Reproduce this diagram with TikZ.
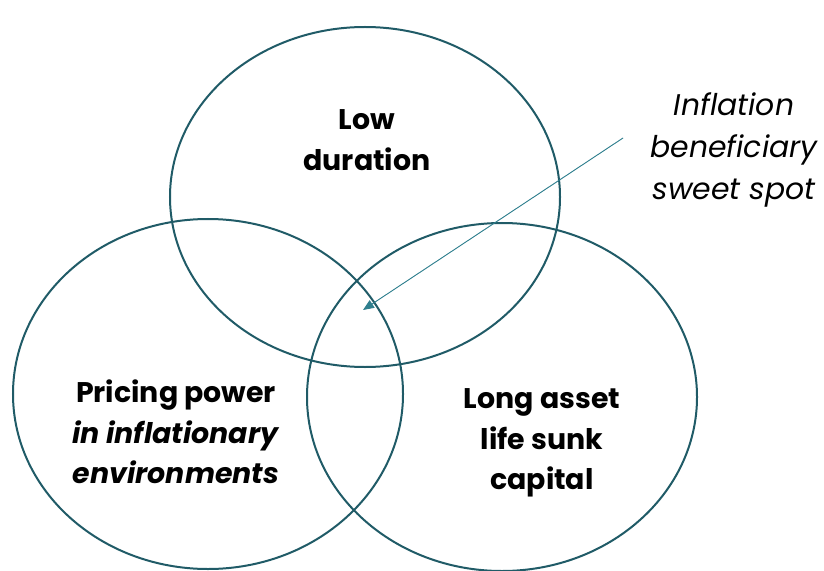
\documentclass[tikz,border=0pt]{standalone}
\usepackage{fontspec}
\setmainfont{Poppins}
\usetikzlibrary{arrows.meta}
\definecolor{ringteal}{HTML}{205B67}
\definecolor{arrowteal}{HTML}{2F7F8E}

\begin{document}
\begin{tikzpicture}[
  x=1bp,y=-1bp,
  ring/.style={draw=ringteal,line width=2bp},
  label/.style={align=center,font=\fontsize{28.5}{40.5}\selectfont\bfseries,inner sep=0pt},
  note/.style={align=center,font=\fontsize{30}{42.5}\selectfont\itshape,inner sep=0pt},
  >={Triangle[length=11bp,width=9bp]}
]
  \useasboundingbox (0,0) rectangle (824,571);

  % the three rings
  \coordinate (top)   at (365,197);
  \coordinate (left)  at (208,394);
  \coordinate (right) at (502,397);
  \draw[ring] (top)   ellipse [x radius=195bp, y radius=170bp];
  \draw[ring] (left)  ellipse [x radius=195bp, y radius=175bp];
  \draw[ring] (right) ellipse [x radius=195bp, y radius=174bp];

  % ring labels
  \node[label] (dur)   at (367,140) {Low\\duration};
  \node[label] (price) at (176,432) {Pricing power\\\textit{in inflationary}\\\textit{environments}};
  \node[label] (asset) at (542,443) {Long asset\\life sunk\\capital};

  % callout
  \node[note] (sweet) at (734,150) {Inflation\\beneficiary\\sweet spot};
  \coordinate (tail) at (623,138);
  \coordinate (spot) at (363,310);
  \draw[->,draw=arrowteal,fill=arrowteal,line width=0.9bp] (tail) -- (spot);
\end{tikzpicture}
\end{document}
